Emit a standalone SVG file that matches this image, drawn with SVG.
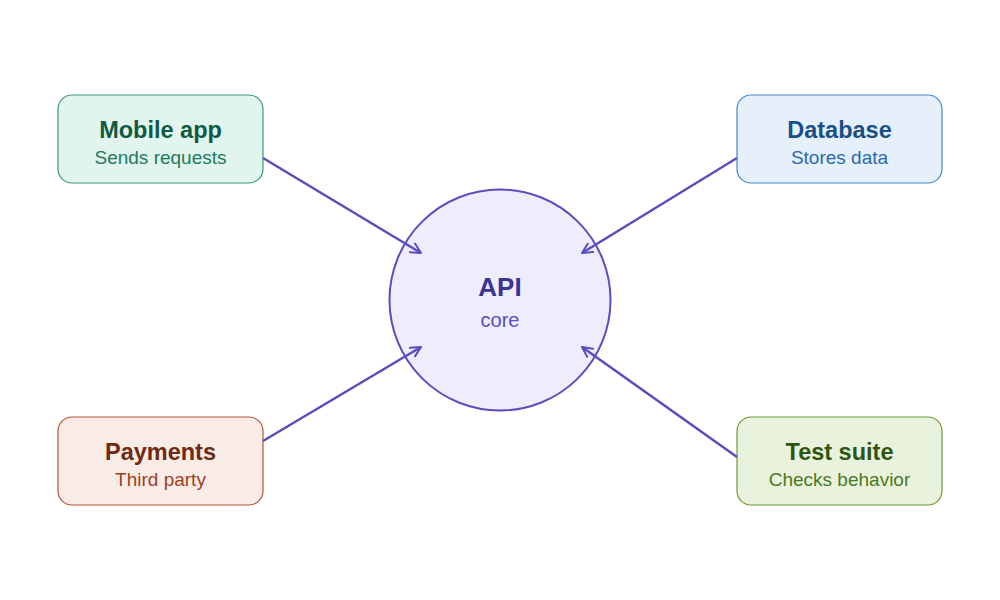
<svg xmlns="http://www.w3.org/2000/svg" width="1000" height="600" viewBox="0 0 1000 600">
<style>
text{font-family:"Liberation Sans",Arial,sans-serif;text-anchor:middle}
.t{font-weight:bold;font-size:23.5px}
.s{font-size:19px}
.box{stroke-width:1.2}
.edge{stroke:#5b4dbb;stroke-width:2.5;fill:none;marker-end:url(#arr)}
</style>
<defs>
<marker id="arr" viewBox="0 0 12 12" refX="11" refY="6" markerWidth="12" markerHeight="12" markerUnits="userSpaceOnUse" orient="auto">
<path d="M1,1 L11,6 L1,11" fill="none" stroke="#5b4dbb" stroke-width="2" stroke-linecap="round" stroke-linejoin="round"/>
</marker>
</defs>
<rect width="1000" height="600" fill="#ffffff"/>
<g id="api">
<circle cx="500" cy="300" r="110.5" fill="#ededfb" stroke="#5b4dbb" stroke-width="2"/>
<text x="500" y="296" style="font-weight:bold;font-size:26px" fill="#3c3490">API</text>
<text x="500" y="327" style="font-size:20px" fill="#5b4dbb">core</text>
</g>
<g id="mobile">
<rect class="box" x="58" y="95" width="205" height="88" rx="14" fill="#e1f4ed" stroke="#3e9a76"/>
<text class="t" x="160.5" y="138" fill="#0f5a45">Mobile app</text>
<text class="s" x="160.5" y="164" fill="#217a5c">Sends requests</text>
</g>
<g id="database">
<rect class="box" x="737" y="95" width="205" height="88" rx="14" fill="#e6f0fb" stroke="#4a86c8"/>
<text class="t" x="839.5" y="138" fill="#1a4f86">Database</text>
<text class="s" x="839.5" y="164" fill="#2a6aaa">Stores data</text>
</g>
<g id="payments">
<rect class="box" x="58" y="417" width="205" height="88" rx="14" fill="#f9ebe5" stroke="#b0583a"/>
<text class="t" x="160.5" y="460" fill="#6e2a12">Payments</text>
<text class="s" x="160.5" y="486" fill="#a0401e">Third party</text>
</g>
<g id="tests">
<rect class="box" x="737" y="417" width="205" height="88" rx="14" fill="#e9f2dd" stroke="#6a9a3a"/>
<text class="t" x="839.5" y="460" fill="#2f5510">Test suite</text>
<text class="s" x="839.5" y="486" fill="#4a7a1e">Checks behavior</text>
</g>
<g id="connectors">
<line class="edge" x1="263" y1="158" x2="421" y2="253"/>
<line class="edge" x1="737" y1="158" x2="582" y2="253"/>
<line class="edge" x1="263" y1="441" x2="421" y2="347"/>
<line class="edge" x1="737" y1="457" x2="582" y2="347"/>
</g>
</svg>
